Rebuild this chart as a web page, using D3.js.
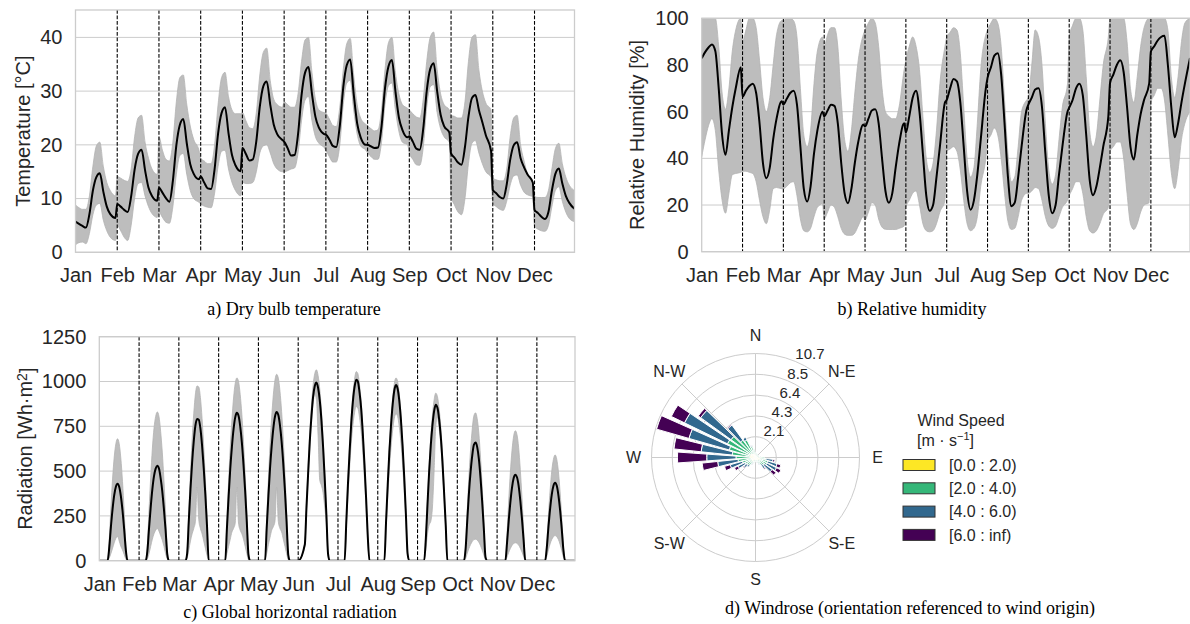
<!DOCTYPE html>
<html>
<head>
<meta charset="utf-8">
<script src="https://cdn.jsdelivr.net/npm/d3@7"></script>
<style>
    body { margin: 0; background: #ffffff; }
    svg { display: block; font-family: "Liberation Sans", Arial, sans-serif; }
    .caption { font-family: "Liberation Serif", "Times New Roman", serif; font-size: 18px; fill: #000000; }
</style>
</head>
<body>
<svg id="canvas" width="1190" height="624"></svg>
<script>
// ---------- data ----------
let MONTHS = ['Jan', 'Feb', 'Mar', 'Apr', 'May', 'Jun', 'Jul', 'Aug', 'Sep', 'Oct', 'Nov', 'Dec'];

// hour of day for every sample of the monthly average day
let HOURS = [0, 2, 4, 6, 8, 10, 12, 14, 16, 18, 20, 23];
let RAD_HOURS = [0, 4, 5, 6, 7, 8, 9, 10, 11, 12, 13, 14, 15, 16, 17, 18, 19, 23];

// dry bulb temperature [°C], one row per month
let TEMP_MEAN = [
    [5.7, 5.3, 4.9, 4.6, 7.1, 11.5, 14.0, 14.7, 11.3, 8.5, 7.1, 6.4],
    [9.0, 8.5, 7.9, 7.5, 10.4, 15.4, 18.3, 19.1, 15.3, 12.0, 10.5, 9.6],
    [12.0, 11.1, 10.1, 9.4, 13.3, 19.9, 23.7, 24.8, 20.3, 16.4, 14.6, 13.6],
    [14.1, 13.0, 11.9, 11.8, 15.5, 22.1, 25.9, 27.0, 22.2, 18.1, 16.2, 15.1],
    [19.4, 18.3, 17.1, 17.3, 20.7, 27.1, 30.9, 31.8, 27.5, 23.8, 22.0, 20.9],
    [20.6, 19.4, 18.0, 18.1, 22.0, 29.2, 33.4, 34.5, 29.5, 25.2, 23.2, 22.0],
    [21.9, 21.0, 19.8, 19.6, 23.5, 30.7, 34.8, 35.9, 29.5, 24.0, 21.4, 20.0],
    [20.0, 19.7, 19.4, 19.5, 23.4, 30.5, 34.6, 35.8, 30.0, 25.1, 22.8, 21.4],
    [21.6, 20.6, 19.3, 19.1, 23.0, 30.0, 34.1, 35.2, 30.0, 25.6, 23.5, 22.3],
    [18.4, 17.6, 16.7, 16.3, 19.6, 25.2, 28.7, 29.3, 26.5, 24.2, 21.8, 18.9],
    [11.6, 11.0, 10.3, 10.0, 12.6, 17.2, 19.9, 20.5, 17.5, 15.8, 14.5, 13.0],
    [7.9, 7.3, 6.6, 6.2, 7.5, 11.5, 14.6, 15.6, 12.8, 10.5, 9.2, 8.1]
];
let TEMP_MAX = [
    [8.8, 8.3, 8.0, 8.0, 10.5, 16.0, 19.8, 20.5, 16.0, 13.0, 11.5, 10.5],
    [14.1, 13.8, 13.4, 13.2, 15.5, 21.5, 25.0, 25.5, 20.5, 17.5, 15.5, 14.5],
    [21.5, 19.0, 17.3, 17.0, 20.5, 28.0, 32.5, 33.0, 27.5, 23.5, 21.0, 19.0],
    [17.5, 17.0, 16.5, 16.5, 20.0, 27.5, 32.5, 33.5, 29.0, 26.5, 25.8, 25.8],
    [26.0, 24.5, 23.2, 23.0, 26.0, 33.0, 37.2, 38.0, 32.0, 28.5, 27.5, 27.0],
    [28.0, 27.5, 27.0, 27.0, 29.5, 35.5, 39.5, 40.0, 33.5, 28.5, 26.5, 26.0],
    [25.9, 24.8, 23.6, 23.4, 27.0, 34.0, 38.8, 39.8, 33.0, 27.5, 25.0, 23.8],
    [23.5, 23.0, 22.6, 22.8, 26.5, 34.0, 39.0, 40.0, 33.5, 29.5, 27.5, 26.8],
    [26.5, 25.8, 25.2, 25.0, 28.5, 35.5, 40.0, 41.0, 34.0, 29.5, 27.5, 26.5],
    [25.5, 25.3, 25.0, 25.0, 28.0, 35.5, 40.0, 40.5, 34.0, 30.0, 27.8, 26.5],
    [13.8, 13.5, 13.3, 13.3, 15.5, 21.5, 25.0, 25.5, 20.0, 17.0, 14.5, 13.0],
    [10.4, 10.2, 10.2, 10.2, 11.5, 15.5, 19.3, 20.3, 16.5, 14.0, 12.5, 11.5]
];
let TEMP_MIN = [
    [1.4, 1.8, 1.9, 1.6, 3.5, 7.0, 8.8, 9.1, 6.0, 4.0, 2.8, 2.2],
    [5.0, 4.0, 2.8, 2.2, 5.0, 10.0, 12.8, 13.0, 10.5, 8.5, 7.2, 6.5],
    [7.5, 6.5, 5.6, 5.4, 8.5, 14.5, 18.0, 18.4, 14.5, 11.5, 10.0, 9.3],
    [9.0, 8.6, 8.4, 8.3, 11.0, 16.0, 18.8, 19.0, 15.5, 13.0, 11.5, 10.5],
    [13.0, 12.8, 12.8, 13.0, 15.0, 18.5, 19.8, 20.0, 18.5, 16.5, 15.5, 15.0],
    [15.0, 15.2, 15.5, 15.7, 18.5, 24.5, 28.3, 29.0, 24.5, 21.5, 20.3, 19.5],
    [19.0, 17.8, 16.8, 16.8, 20.0, 27.5, 31.5, 32.0, 26.5, 22.0, 19.8, 19.0],
    [18.5, 17.8, 17.3, 17.3, 20.5, 27.5, 31.0, 31.5, 26.5, 22.5, 20.5, 20.0],
    [18.5, 17.3, 16.3, 16.2, 19.5, 27.0, 30.8, 31.2, 26.0, 23.0, 21.5, 20.5],
    [10.5, 8.8, 7.5, 7.0, 10.0, 16.5, 20.3, 20.8, 18.5, 16.5, 15.0, 14.0],
    [9.1, 8.5, 8.0, 7.8, 9.5, 12.5, 14.2, 14.4, 12.5, 11.2, 10.7, 10.3],
    [4.8, 4.3, 4.0, 3.9, 5.0, 8.5, 11.5, 12.2, 9.5, 7.5, 6.3, 5.7]
];

// relative humidity [%]
let RH_MEAN = [
    [82.9, 85.5, 87.5, 88.8, 86, 70, 50, 41.5, 52, 62, 70, 79],
    [66.4, 69, 71, 72, 68, 55, 38, 31.5, 36, 48, 57, 64.5],
    [63, 65.5, 68, 69, 63, 45, 27, 21.5, 28, 42, 52, 60],
    [58, 60.5, 63, 62.5, 55, 38, 25, 20.8, 27, 38, 47, 54.5],
    [53.6, 57, 60.5, 61, 55, 40, 26, 21, 25, 36, 46, 55],
    [51, 58, 66, 69, 60, 42, 24, 17.5, 20, 32, 45, 64],
    [65, 70, 74, 73, 64, 45, 26, 18, 22, 33, 48, 70],
    [74.5, 79, 84, 85, 76, 55, 32, 19.5, 21, 32, 45, 61],
    [63, 66, 69.5, 70, 62, 42, 24, 16.5, 20, 33, 45, 60],
    [61.7, 65, 70, 72, 67, 50, 31, 24.2, 28, 36, 45, 58],
    [72.3, 76, 80, 82, 77, 62, 45, 39.5, 50, 59, 65, 72],
    [85.8, 88, 90.5, 92, 92.5, 80, 62, 49, 55, 64, 72, 83]
];
let RH_MAX = [
    [100, 100, 100, 100, 100, 88, 68, 61, 70, 86, 95, 100],
    [90, 95, 100, 100, 96, 82, 66, 60, 66, 80, 93, 99],
    [99, 100, 100, 99, 92, 70, 50, 45, 52, 72, 86, 92],
    [88, 93, 96, 96, 88, 65, 48, 43, 52, 68, 82, 93],
    [95, 98, 100, 98, 88, 70, 60, 58, 57, 57, 62, 78],
    [82, 88, 92, 88, 78, 58, 40, 34, 38, 52, 72, 88],
    [92, 94, 96, 95, 85, 62, 40, 32, 36, 55, 78, 93],
    [95, 98, 100, 98, 88, 65, 42, 30, 32, 45, 60, 65],
    [66, 80, 95, 92, 80, 55, 35, 29, 33, 48, 62, 72],
    [92, 97, 100, 100, 95, 75, 52, 45, 50, 65, 80, 92],
    [100, 100, 100, 100, 100, 90, 70, 64, 75, 88, 96, 100],
    [100, 100, 100, 100, 100, 95, 75, 66, 75, 90, 98, 100]
];
let RH_MIN = [
    [40.7, 48, 54, 57, 52, 35, 22, 16.5, 25, 33, 33.5, 34],
    [34.5, 34.5, 34, 33.5, 30, 22, 15, 12, 18, 27, 27.5, 27],
    [27, 28, 29.5, 30, 24, 14, 9, 8.5, 10, 15, 19, 20.5],
    [14, 17, 20, 19, 15, 10, 7.5, 7, 7, 8, 11, 15],
    [13.6, 17, 21, 20, 14, 10.5, 9.6, 9.5, 9.5, 9.5, 10, 11],
    [19, 22, 25, 26, 20, 12, 9, 8.5, 9, 12, 17, 22],
    [43, 44, 45, 43, 35, 22, 12, 9, 10, 15, 28, 40],
    [47, 50, 53, 50, 40, 25, 13, 9.5, 10, 15, 22, 25],
    [25, 26, 27.5, 27, 22, 15, 11, 10, 11, 15, 19, 22],
    [24, 27, 30, 30, 25, 15, 9, 8, 9, 12, 16, 19],
    [43, 45, 47, 47, 40, 25, 12, 9.5, 12, 17, 20, 21],
    [64, 67, 70, 70, 65, 50, 34, 27, 35, 48, 55, 60]
];

// global horizontal radiation [Wh/m2]
let RAD_MEAN = [
    [0, 0, 0, 73, 189, 288, 366, 413, 430, 413, 361, 280, 176, 60, 0, 0, 0, 0],
    [0, 0, 53, 180, 297, 398, 472, 514, 530, 514, 461, 387, 286, 170, 37, 0, 0, 0],
    [0, 0, 40, 223, 398, 549, 668, 755, 791, 787, 739, 644, 517, 366, 191, 0, 0, 0],
    [0, 0, 182, 355, 512, 635, 734, 800, 825, 809, 751, 660, 536, 388, 215, 33, 0, 0],
    [0, 0, 183, 357, 515, 639, 739, 805, 830, 813, 755, 664, 540, 390, 216, 33, 0, 0],
    [0, 90, 299, 488, 667, 806, 915, 975, 995, 965, 896, 786, 637, 458, 259, 40, 0, 0],
    [0, 0, 212, 424, 606, 768, 889, 970, 1010, 1000, 939, 848, 707, 535, 343, 131, 0, 0],
    [0, 0, 216, 421, 608, 755, 872, 951, 980, 960, 892, 784, 637, 461, 255, 39, 0, 0],
    [0, 0, 122, 313, 496, 644, 757, 835, 870, 853, 792, 696, 557, 383, 200, 0, 0, 0],
    [0, 0, 66, 224, 376, 495, 587, 647, 660, 634, 568, 462, 330, 178, 20, 0, 0, 0],
    [0, 0, 0, 101, 221, 326, 408, 461, 480, 466, 418, 336, 235, 115, 0, 0, 0, 0],
    [0, 0, 0, 74, 191, 291, 370, 418, 435, 418, 365, 283, 178, 61, 0, 0, 0, 0]
];
let RAD_MAX = [
    [0, 0, 0, 116, 299, 456, 578, 653, 680, 653, 571, 442, 279, 95, 0, 0, 0, 0],
    [0, 0, 83, 282, 465, 623, 739, 805, 830, 805, 722, 606, 448, 266, 58, 0, 0, 0],
    [0, 0, 49, 274, 490, 676, 823, 931, 975, 970, 911, 794, 637, 451, 235, 0, 0, 0],
    [0, 0, 224, 439, 632, 785, 908, 989, 1020, 1000, 928, 816, 663, 479, 265, 41, 0, 0],
    [0, 0, 229, 447, 645, 801, 926, 1009, 1040, 1019, 946, 832, 676, 489, 270, 42, 0, 0],
    [0, 96, 320, 522, 714, 863, 980, 1044, 1065, 1033, 959, 841, 682, 490, 277, 43, 0, 0],
    [0, 0, 222, 443, 633, 802, 928, 1013, 1055, 1044, 981, 886, 739, 559, 359, 137, 0, 0],
    [0, 0, 224, 439, 632, 785, 908, 989, 1020, 1000, 928, 816, 663, 479, 265, 41, 0, 0],
    [0, 0, 131, 337, 533, 692, 813, 898, 935, 916, 851, 748, 598, 411, 215, 0, 0, 0],
    [0, 0, 83, 281, 470, 619, 734, 809, 825, 792, 710, 578, 413, 223, 25, 0, 0, 0],
    [0, 0, 0, 152, 334, 493, 616, 696, 725, 703, 631, 508, 355, 174, 0, 0, 0, 0],
    [0, 0, 0, 100, 260, 395, 502, 566, 590, 566, 496, 384, 242, 83, 0, 0, 0, 0]
];
let RAD_MIN = [
    [0, 0, 0, 15, 40, 70, 100, 125, 135, 110, 80, 60, 35, 10, 0, 0, 0, 0],
    [0, 0, 10, 40, 80, 120, 150, 170, 180, 165, 140, 115, 80, 40, 10, 0, 0, 0],
    [0, 0, 15, 60, 110, 150, 180, 220, 410, 230, 180, 150, 110, 70, 30, 0, 0, 0],
    [0, 0, 40, 80, 120, 160, 180, 210, 410, 210, 170, 150, 120, 80, 40, 5, 0, 0],
    [0, 0, 40, 90, 130, 170, 190, 220, 410, 220, 180, 160, 120, 80, 40, 5, 0, 0],
    [0, 80, 280, 460, 640, 780, 880, 930, 900, 700, 450, 420, 380, 300, 200, 30, 0, 0],
    [0, 0, 180, 360, 516, 654, 757, 826, 860, 851, 800, 722, 602, 456, 292, 112, 0, 0],
    [0, 0, 180, 353, 508, 631, 730, 795, 820, 804, 746, 656, 533, 385, 213, 33, 0, 0],
    [0, 0, 60, 150, 200, 220, 300, 500, 750, 800, 740, 650, 520, 360, 180, 0, 0, 0],
    [0, 0, 12, 41, 68, 90, 107, 118, 120, 115, 103, 84, 60, 32, 4, 0, 0, 0],
    [0, 0, 0, 21, 46, 68, 85, 96, 100, 97, 87, 70, 49, 24, 0, 0, 0, 0],
    [0, 0, 0, 24, 62, 94, 119, 134, 140, 134, 118, 91, 57, 20, 0, 0, 0, 0]
];

// wind rose: frequency [%] per 10° sector of wind origin, per speed bin
let WIND_DIRS = [0, 10, 20, 30, 40, 50, 60, 70, 80, 90, 100, 110, 120, 130, 140, 150, 160, 170,
                 180, 190, 200, 210, 220, 230, 240, 250, 260, 270, 280, 290, 300, 310, 320, 330, 340, 350];
let WIND_0_2 = [0.3, 0.3, 0.25, 0.25, 0.25, 0.25, 0.25, 0.3, 0.3, 0.5, 0.5, 0.5, 0.5, 0.4, 0.4, 0.4, 0.3, 0.3,
                0.3, 0.3, 0.35, 0.4, 0.5, 0.5, 0.5, 0.5, 0.5, 0.6, 0.6, 0.6, 0.6, 0.6, 0.5, 0.5, 0.4, 0.4];
let WIND_2_4 = [0.2, 0.1, 0.1, 0.1, 0.1, 0.1, 0.1, 0.1, 0.2, 0.4, 0.6, 0.8, 0.8, 0.7, 0.5, 0.3, 0.2, 0.15,
                0.15, 0.15, 0.2, 0.3, 0.5, 0.6, 0.7, 0.9, 1.3, 1.4, 1.8, 2.2, 2.6, 2.5, 1.7, 1.5, 0.8, 0.4];
let WIND_4_6 = [0, 0, 0, 0, 0, 0, 0, 0, 0, 0, 0.7, 1.0, 1.1, 1.0, 0.5, 0.1, 0.05, 0,
                0, 0, 0.05, 0.1, 0.2, 0.4, 0.8, 1.3, 2.1, 3.0, 3.2, 4.3, 4.9, 3.85, 1.9, 0.3, 0.1, 0];
let WIND_6_INF = [0, 0, 0, 0, 0, 0, 0, 0, 0, 0, 0.2, 0.4, 0.5, 0.5, 0.1, 0, 0, 0,
                  0, 0, 0, 0, 0, 0.1, 0.4, 0.6, 1.6, 3.0, 2.8, 3.45, 1.5, 0.3, 0.1, 0, 0, 0];
let WIND_BINS = ['[0.0 : 2.0)', '[2.0 : 4.0)', '[4.0 : 6.0)', '[6.0 : inf)'];
let WIND_COLORS = ['#fde725', '#35b779', '#31688e', '#440154'];
let WIND_RINGS = [2.13, 4.26, 6.40, 8.53, 10.66];
let WIND_RING_LABELS = ['2.1', '4.3', '6.4', '8.5', '10.7'];
let COMPASS = ['N', 'N-E', 'E', 'S-E', 'S', 'S-W', 'W', 'N-W'];
let COMPASS_ANGLES = [0, 45, 90, 135, 180, 225, 270, 315];

// ---------- drawing ----------
let canvas = d3.select('#canvas');
let textColor = '#262626';
let gridColor = '#cccccc';

let drawProfile = (p) => {
    let x = d3.scaleLinear().domain([0, 287]).range([p.left, p.right]);
    let y = d3.scaleLinear().domain([0, p.yMax]).range([p.bottom, p.top]);
    let panel = canvas.append('g');

    panel.append('clipPath').attr('id', p.id + '-clip')
        .append('rect')
        .attr('x', p.left).attr('y', p.top)
        .attr('width', p.right - p.left).attr('height', p.bottom - p.top);

    // horizontal grid
    panel.append('g').selectAll('line')
        .data(p.yTicks).enter().append('line')
        .attr('x1', p.left).attr('x2', p.right)
        .attr('y1', (d) => y(d)).attr('y2', (d) => y(d))
        .attr('stroke', gridColor).attr('stroke-width', 1);

    let points = [];
    p.mean.forEach((row, m) => {
        row.forEach((v, i) => {
            points.push({ x: m * 24 + p.hours[i], mean: v, lo: p.lo[m][i], hi: p.hi[m][i] });
        });
    });

    let plot = panel.append('g').attr('clip-path', 'url(#' + p.id + '-clip)');

    plot.append('path')
        .datum(points)
        .attr('d', d3.area()
            .x((d) => x(d.x))
            .y0((d) => y(d.lo))
            .y1((d) => y(d.hi))
            .curve(d3.curveMonotoneX))
        .attr('fill', '#bdbdbd')
        .attr('stroke', '#b2b2b2')
        .attr('stroke-width', 0.8);

    // month separators
    let starts = MONTHS.map((m, i) => i * 24);
    plot.selectAll('.month-line')
        .data(starts.slice(1)).enter().append('line')
        .attr('x1', (d) => x(d)).attr('x2', (d) => x(d))
        .attr('y1', p.top).attr('y2', p.bottom)
        .attr('stroke', '#000000').attr('stroke-width', 1.1)
        .attr('stroke-dasharray', '3.7,1.8');

    plot.append('path')
        .datum(points)
        .attr('d', d3.line()
            .x((d) => x(d.x))
            .y((d) => y(d.mean))
            .curve(d3.curveMonotoneX))
        .attr('fill', 'none')
        .attr('stroke', '#000000')
        .attr('stroke-width', 2);

    // frame
    panel.append('rect')
        .attr('x', p.left).attr('y', p.top)
        .attr('width', p.right - p.left).attr('height', p.bottom - p.top)
        .attr('fill', 'none').attr('stroke', gridColor).attr('stroke-width', 1.3);

    let yAxis = panel.append('g')
        .attr('transform', 'translate(' + p.left + ',0)')
        .call(d3.axisLeft(y).tickValues(p.yTicks).tickFormat(d3.format('d')).tickSize(0).tickPadding(13));
    let xAxis = panel.append('g')
        .attr('transform', 'translate(0,' + p.bottom + ')')
        .call(d3.axisBottom(x).tickValues(starts).tickFormat((d, i) => MONTHS[i]).tickSize(0).tickPadding(16));

    [yAxis, xAxis].forEach((a) => {
        a.select('.domain').remove();
        a.attr('font-family', null).attr('font-size', null);
        a.selectAll('text')
            .style('font-size', '20px')
            .style('font-family', '"Liberation Sans", Arial, sans-serif')
            .attr('fill', textColor);
    });

    let label = panel.append('text')
        .attr('transform', 'translate(' + p.labelX + ',' + ((p.top + p.bottom) / 2) + ') rotate(-90)')
        .attr('text-anchor', 'middle')
        .attr('dy', '0.35em')
        .style('font-size', '20px')
        .attr('fill', textColor);
    p.label(label);

    canvas.append('text')
        .attr('class', 'caption')
        .attr('x', p.captionX).attr('y', p.captionY)
        .attr('text-anchor', 'middle')
        .text(p.caption);
};

let drawWindrose = () => {
    let cx = 755.5;
    let cy = 457.5;
    let R = 104;
    let r = d3.scaleLinear().domain([0, WIND_RINGS[WIND_RINGS.length - 1]]).range([0, R]);
    let rose = canvas.append('g').attr('transform', 'translate(' + cx + ',' + cy + ')');

    rose.selectAll('circle')
        .data(WIND_RINGS).enter().append('circle')
        .attr('r', (d) => r(d))
        .attr('fill', 'none').attr('stroke', gridColor).attr('stroke-width', 1);

    rose.selectAll('.spoke')
        .data(COMPASS_ANGLES).enter().append('line')
        .attr('x1', 0).attr('y1', 0)
        .attr('x2', (d) => R * Math.sin(d * Math.PI / 180))
        .attr('y2', (d) => -R * Math.cos(d * Math.PI / 180))
        .attr('stroke', gridColor).attr('stroke-width', 1);

    let rows = WIND_DIRS.map((dir, i) => ({
        dir: dir, b0: WIND_0_2[i], b1: WIND_2_4[i], b2: WIND_4_6[i], b3: WIND_6_INF[i]
    }));
    let layers = d3.stack().keys(['b0', 'b1', 'b2', 'b3'])(rows);
    let arc = d3.arc();
    let half = 4; // sector opening in degrees on each side

    layers.forEach((layer, k) => {
        rose.append('g').selectAll('path')
            .data(layer.filter((d) => d[1] > d[0])).enter().append('path')
            .attr('d', (d) => arc({
                innerRadius: r(d[0]),
                outerRadius: r(d[1]),
                startAngle: (d.data.dir - half) * Math.PI / 180,
                endAngle: (d.data.dir + half) * Math.PI / 180
            }))
            .attr('fill', WIND_COLORS[k])
            .attr('stroke', '#ffffff')
            .attr('stroke-width', 1);
    });

    rose.selectAll('.ring-label')
        .data(WIND_RINGS).enter().append('text')
        .attr('x', (d) => r(d) * Math.sin(22.5 * Math.PI / 180))
        .attr('y', (d) => -r(d) * Math.cos(22.5 * Math.PI / 180) - 2)
        .text((d, i) => WIND_RING_LABELS[i])
        .style('font-size', '15px')
        .attr('fill', textColor);

    rose.selectAll('.compass')
        .data(COMPASS).enter().append('text')
        .attr('x', (d, i) => (R + 18) * Math.sin(COMPASS_ANGLES[i] * Math.PI / 180))
        .attr('y', (d, i) => -(R + 18) * Math.cos(COMPASS_ANGLES[i] * Math.PI / 180))
        .attr('dy', '0.35em')
        .attr('text-anchor', 'middle')
        .text((d) => d)
        .style('font-size', '16px')
        .attr('fill', textColor);

    // legend
    let legend = canvas.append('g');
    legend.append('text')
        .attr('x', 961).attr('y', 426)
        .attr('text-anchor', 'middle')
        .style('font-size', '16px')
        .attr('fill', textColor)
        .text('Wind Speed');
    let unit = legend.append('text')
        .attr('x', 917).attr('y', 446)
        .style('font-size', '16px')
        .attr('fill', textColor);
    unit.append('tspan').text('[m · s');
    unit.append('tspan').attr('dy', -6).style('font-size', '11px').text('−1');
    unit.append('tspan').attr('dy', 6).text(']');

    let item = legend.selectAll('.item')
        .data(WIND_BINS).enter().append('g')
        .attr('transform', (d, i) => 'translate(903,' + (465 + i * 23.3) + ')');
    item.append('rect')
        .attr('x', 0).attr('y', -5.5)
        .attr('width', 32).attr('height', 11)
        .attr('fill', (d, i) => WIND_COLORS[i])
        .attr('stroke', '#333333').attr('stroke-width', 1);
    item.append('text')
        .attr('x', 46).attr('dy', '0.35em')
        .style('font-size', '16px')
        .attr('fill', textColor)
        .text((d) => d);

    canvas.append('text')
        .attr('class', 'caption')
        .attr('x', 910).attr('y', 614)
        .attr('text-anchor', 'middle')
        .text('d) Windrose (orientation referenced to wind origin)');
};

drawProfile({
    id: 'temp', left: 75.5, right: 574.5, top: 10, bottom: 252.3,
    yMax: 45.1, yTicks: [0, 10, 20, 30, 40],
    hours: HOURS, mean: TEMP_MEAN, lo: TEMP_MIN, hi: TEMP_MAX,
    labelX: 23, label: (t) => t.text('Temperature [°C]'),
    caption: 'a) Dry bulb temperature', captionX: 294, captionY: 315
});

drawProfile({
    id: 'rh', left: 701.7, right: 1190, top: 18.3, bottom: 251.7,
    yMax: 100, yTicks: [0, 20, 40, 60, 80, 100],
    hours: HOURS, mean: RH_MEAN, lo: RH_MIN, hi: RH_MAX,
    labelX: 637, label: (t) => t.text('Relative Humidity [%]'),
    caption: 'b) Relative humidity', captionX: 912, captionY: 315
});

drawProfile({
    id: 'rad', left: 99.3, right: 575, top: 336.7, bottom: 560.7,
    yMax: 1250, yTicks: [0, 250, 500, 750, 1000, 1250],
    hours: RAD_HOURS, mean: RAD_MEAN, lo: RAD_MIN, hi: RAD_MAX,
    labelX: 25,
    label: (t) => {
        t.append('tspan').text('Radiation [Wh·m');
        t.append('tspan').attr('dy', '-0.35em').style('font-size', '14px').text('2');
        t.append('tspan').attr('dy', '0.35em').text(']');
    },
    caption: 'c) Global horizontal radiation', captionX: 290, captionY: 618
});

drawWindrose();
</script>
</body>
</html>
